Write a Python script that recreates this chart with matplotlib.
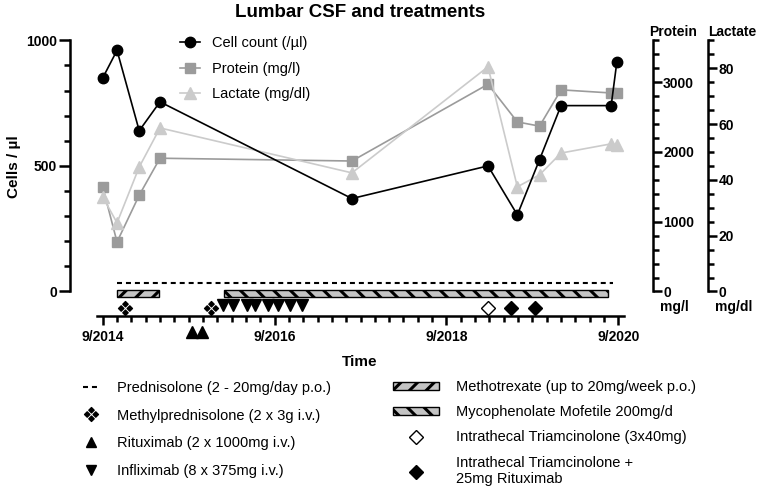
import numpy as np
import matplotlib
matplotlib.use("Agg")
import matplotlib.pyplot as plt
from matplotlib.lines import Line2D
from matplotlib.patches import Patch
from matplotlib.path import Path

plt.rcParams['font.family'] = ['Liberation Sans', 'DejaVu Sans']
plt.rcParams['hatch.linewidth'] = 2.2

# time axis: months after 9/2014
t_csf = [0, 2, 5.1, 8, 34.8, 53.8, 57.9, 61, 64, 71, 71.8]
cells = [850, 960, 640, 755, 370, 500, 305, 525, 740, 740, 915]
protein = [1500, 710, 1380, 1910, 1870, 2970, 2430, 2370, 2890, 2845, 2845]
lactate = [33.9, 24.6, 44.6, 58.6, 42.5, 80.5, 37.5, 41.8, 49.6, 52.9, 52.5]

# treatments (months after 9/2014)
prednisolone = (1.96, 71.3)
methotrexate = (2.0, 7.9)
mycophenolate = (17.0, 70.5)
methylpred = [3.1, 15.1]
rituximab = [12.4, 13.8]
infliximab = [16.8, 18.2, 20.1, 21.3, 23.1, 24.5, 26.2, 27.8]
it_triam = [53.8]
it_triam_rtx = [57.0, 60.4]

x_ticks = [0, 24, 48, 72]
x_labels = ["9/2014", "9/2016", "9/2018", "9/2020"]


def four_diamonds(r=0.62):
    # marker like the dingbat "❖": four small diamonds around a centre
    verts, codes = [], []
    for cx, cy in ((0, 1), (1, 0), (0, -1), (-1, 0)):
        verts += [(cx, cy + r), (cx + r, cy), (cx, cy - r), (cx - r, cy), (cx, cy + r)]
        codes += [Path.MOVETO, Path.LINETO, Path.LINETO, Path.LINETO, Path.CLOSEPOLY]
    return Path(verts, codes)


MP_MARK = four_diamonds()

W, H = 759, 488
fig = plt.figure(figsize=(W / 100, H / 100), dpi=100)

# axes placement in pixels
left_px, right_px, top_px, bot_px = 69.5, 652.7, 40.3, 340
ax = fig.add_axes([left_px / W, 1 - bot_px / H, (right_px - left_px) / W, (bot_px - top_px) / H])
ymin = -193.1
ax.set_ylim(ymin, 1000)
ax.set_xlim(-4.636, 76.8)

ax_p = ax.twinx()
ax_p.set_ylim(ymin * 3.6, 3600)
ax_l = ax.twinx()
ax_l.set_ylim(ymin * 0.09, 90)
ax_l.spines['right'].set_position(('axes', (708.3 - left_px) / (right_px - left_px)))

ax.set_zorder(3)
ax.patch.set_visible(False)
ax_l.set_zorder(2)
ax_p.set_zorder(1)

lw = 1.2
hp, = ax_p.plot(t_csf, protein, color='#9b9b9b', lw=lw, marker='s', ms=7, clip_on=False)
hl, = ax_l.plot(t_csf, lactate, color='#cbcbcb', lw=lw, marker='^', ms=8, clip_on=False)
hc, = ax.plot(t_csf, cells, color='black', lw=lw, marker='o', ms=7.5, clip_on=False)

# spines and ticks
spw = 1.8
for a in (ax, ax_p, ax_l):
    for s in a.spines.values():
        s.set_linewidth(spw)
ax.spines['top'].set_visible(False)
ax.spines['right'].set_visible(False)
ax.spines['left'].set_bounds(0, 1000)
ax.spines['bottom'].set_position(('data', -96.3))
ax.spines['bottom'].set_bounds(-0.8, 72.8)

ax.set_yticks([0, 500, 1000], ["0", "500", "1000"], fontweight='bold', fontsize=10)
ax.set_yticks(np.arange(0, 1001, 100), minor=True)
ax.set_xticks(x_ticks, x_labels, fontweight='bold', fontsize=10)
ax.set_xticks(np.arange(0, 73, 2), minor=True)
ax.tick_params(axis='y', which='major', length=8, width=spw, pad=1)
ax.tick_params(axis='y', which='minor', length=4.3, width=spw)
ax.tick_params(axis='x', which='major', length=6.5, width=spw, pad=4)
ax.tick_params(axis='x', which='minor', length=4, width=spw)

for a, top, major, minor in ((ax_p, 3600, [0, 1000, 2000, 3000], np.arange(0, 3601, 200)),
                             (ax_l, 90, [0, 20, 40, 60, 80], np.arange(0, 91, 5))):
    for k in ('left', 'top', 'bottom'):
        a.spines[k].set_visible(False)
    a.spines['right'].set_bounds(0, top)
    a.set_yticks(major, [str(v) for v in major], fontweight='bold', fontsize=10)
    a.set_yticks(minor, minor=True)
    a.tick_params(axis='y', which='major', length=6.5, width=spw, pad=1)
    a.tick_params(axis='y', which='minor', length=4, width=spw)

# treatment row
bar_fc = '#c4c4c4'
ax.plot(prednisolone, [35, 35], color='black', lw=1.5, dashes=(2.4, 1.9), clip_on=False)
ax.barh(-7.4, methotrexate[1] - methotrexate[0], left=methotrexate[0], height=26.6,
        facecolor=bar_fc, edgecolor='black', lw=1, hatch='//')
ax.barh(-7.4, mycophenolate[1] - mycophenolate[0], left=mycophenolate[0], height=26.6,
        facecolor=bar_fc, edgecolor='black', lw=1, hatch='\\\\')
ax.plot(methylpred, [-66] * len(methylpred), ls='none', marker=MP_MARK, ms=10, color='black', clip_on=False)
ax.plot(infliximab, [-54] * len(infliximab), ls='none', marker='v', ms=8.5, color='black', clip_on=False)
ax.plot(rituximab, [-161] * len(rituximab), ls='none', marker='^', ms=8.5, color='black', clip_on=False)
ax.plot(it_triam, [-67] * len(it_triam), ls='none', marker='D', ms=7.5, mfc='white', mec='black',
        mew=1, clip_on=False)
ax.plot(it_triam_rtx, [-67] * len(it_triam_rtx), ls='none', marker='D', ms=7.5, color='black', clip_on=False)

# legend for CSF series
ax.legend([hc, hp, hl], ["Cell count (/µl)", "Protein (mg/l)", "Lactate (mg/dl)"],
          loc='upper left', bbox_to_anchor=(180 / W, 1 - 36 / H), bbox_transform=fig.transFigure,
          frameon=False, fontsize=10.5, borderpad=0, borderaxespad=0,
          handlelength=1.36, handletextpad=0.82, labelspacing=0.8)

# texts
fig.text(360.5 / W, 1 - 12.5 / H, "Lumbar CSF and treatments", ha='center', va='center',
         fontsize=13.5, fontweight='bold')
fig.text(14.5 / W, 1 - 167 / H, "Cells / µl", rotation=90, ha='center', va='center',
         fontsize=11, fontweight='bold')
fig.text(360 / W, 1 - 362 / H, "Time", ha='center', va='center', fontsize=11, fontweight='bold')
fig.text(649 / W, 1 - 32 / H, "Protein", ha='left', va='center', fontsize=10, fontweight='bold')
fig.text(708 / W, 1 - 32 / H, "Lactate", ha='left', va='center', fontsize=10, fontweight='bold')
fig.text(674 / W, 1 - 306.5 / H, "mg/l", ha='center', va='center', fontsize=10, fontweight='bold')
fig.text(734 / W, 1 - 306.5 / H, "mg/dl", ha='center', va='center', fontsize=10, fontweight='bold')

# treatment legend, two columns
h_left = [Line2D([], [], color='black', lw=1.5, dashes=(2.4, 1.9)),
          Line2D([], [], ls='none', marker=MP_MARK, ms=10, color='black'),
          Line2D([], [], ls='none', marker='^', ms=7.5, color='black'),
          Line2D([], [], ls='none', marker='v', ms=7.5, color='black')]
l_left = ["Prednisolone (2 - 20mg/day p.o.)", "Methylprednisolone (2 x 3g i.v.)",
          "Rituximab (2 x 1000mg i.v.)", "Infliximab (8 x 375mg i.v.)"]
fig.legend(h_left, l_left, loc='upper left', bbox_to_anchor=(83 / W, 1 - 381 / H),
           frameon=False, fontsize=10.5, borderpad=0, borderaxespad=0,
           handlelength=1.16, handletextpad=1.16, labelspacing=0.93)

h_right = [Patch(facecolor=bar_fc, edgecolor='black', lw=1, hatch='//'),
           Patch(facecolor=bar_fc, edgecolor='black', lw=1, hatch='\\\\'),
           Line2D([], [], ls='none', marker='D', ms=7, mfc='white', mec='black', mew=1),
           Line2D([], [], ls='none', marker='D', ms=7, color='black')]
l_right = ["Methotrexate (up to 20mg/week p.o.)", "Mycophenolate Mofetile 200mg/d",
           "Intrathecal Triamcinolone (3x40mg)", "Intrathecal Triamcinolone +\n25mg Rituximab"]
fig.legend(h_right, l_right, loc='upper left', bbox_to_anchor=(393 / W, 1 - 380 / H),
           frameon=False, fontsize=10.5, borderpad=0, borderaxespad=0,
           handlelength=3.15, handleheight=0.5, handletextpad=1.16, labelspacing=0.77)

fig.savefig("out.png", dpi=100)
